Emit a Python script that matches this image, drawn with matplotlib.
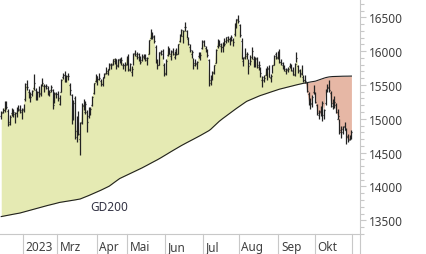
import numpy as np
import pandas as pd
import matplotlib
matplotlib.use('Agg')
import matplotlib.pyplot as plt
import matplotlib.transforms as mtransforms
from matplotlib.collections import LineCollection
from matplotlib.ticker import MultipleLocator

plt.rcParams['font.family'] = ['Noto Sans', 'DejaVu Sans']

# Xetra trading days 13.01.2023 - 31.10.2023
START, END = '2023-01-13', '2023-10-31'
HOLIDAYS = ['2023-04-07', '2023-04-10', '2023-05-01']
MONTH_LABELS = ['2023', 'Mrz', 'Apr', 'Mai', 'Jun', 'Jul', 'Aug', 'Sep', 'Okt']

# daily OHLC (DAX)
OPEN = [15040, 15100, 15130, 15190, 15120, 14950, 15080, 15110, 15070, 15080, 15150, 15130, 15100,
        15140, 15290, 15470, 15400, 15320, 15370, 15450, 15420, 15330, 15400, 15370, 15500, 15480, 15490, 15460, 15380, 15430, 15420, 15270, 15370,
        15360, 15220, 15400, 15610, 15650, 15570, 15630, 15500, 15350, 15010, 15300, 14820, 15000, 14700, 14950, 15200, 15100, 15100, 15040, 15110, 15210, 15380, 15560,
        15560, 15590, 15560, 15510, 15620, 15680, 15680, 15740, 15790, 15810, 15850, 15880, 15780, 15870, 15850, 15800, 15790, 15810,
        15920, 15740, 15690, 15800, 15970, 15930, 15910, 15900, 15870, 15930, 15940, 15870, 15960, 16190, 16260, 16210, 16060, 15850, 15800, 15970, 16000, 15800,
        15680, 15940, 16020, 15930, 16000, 15920, 16010, 15960, 16150, 16240, 16220, 16350, 16290, 16180, 16060, 15960, 15870, 15800, 15820, 15930, 15930, 16050,
        16130, 16050, 16020, 15870, 15570, 15620, 15690, 15830, 16070, 16140, 16080, 16060, 16130, 16150, 16160, 16180, 16190, 16170, 16250, 16390, 16460,
        16390, 16150, 15850, 15910, 15930, 15840, 15830, 15910, 15890, 15800, 15880, 15790, 15670, 15580, 15610, 15650, 15640, 15750, 15600, 15690, 15800, 15950, 15910,
        15980, 15840, 15800, 15760, 15700, 15740, 15780, 15780, 15710, 15660, 15850, 15780, 15700, 15670, 15620, 15580, 15530, 15360, 15250, 15230, 15400,
        15370, 15200, 15060, 15110, 15090, 15050, 15230, 15420, 15470, 15380, 15230, 15260, 15210, 15000, 14980, 14830, 14850, 14890, 14830, 14750, 14700, 14730]
HIGH = [15110, 15160, 15270, 15270, 15140, 15060, 15160, 15140, 15100, 15180, 15200, 15200, 15160,
        15220, 15530, 15580, 15440, 15400, 15430, 15660, 15460, 15410, 15480, 15510, 15600, 15520, 15510, 15480, 15430, 15500, 15440, 15400, 15390,
        15410, 15350, 15590, 15670, 15700, 15650, 15680, 15530, 15370, 15280, 15330, 15040, 15110, 14950, 15230, 15290, 15270, 15130, 15180, 15170, 15340, 15530, 15660,
        15630, 15670, 15590, 15610, 15680, 15760, 15740, 15820, 15820, 15890, 15900, 15890, 15890, 15900, 15920, 15830, 15840, 15930,
        15960, 15830, 15780, 15970, 16010, 15980, 15970, 15930, 15950, 15960, 15960, 15910, 16170, 16330, 16280, 16240, 16090, 15880, 15990, 16010, 16030, 15830,
        15880, 16080, 16040, 16010, 16050, 16000, 16050, 16110, 16250, 16330, 16310, 16430, 16310, 16210, 16100, 16020, 15900, 15880, 15860, 15990, 15990, 16160,
        16160, 16070, 16030, 15890, 15640, 15700, 15800, 16030, 16180, 16170, 16120, 16130, 16200, 16210, 16230, 16210, 16240, 16190, 16420, 16480, 16530,
        16400, 16190, 15920, 16040, 15990, 15880, 15940, 16060, 15930, 15920, 15910, 15860, 15760, 15630, 15650, 15750, 15780, 15800, 15660, 15800, 15940, 15990, 16000,
        16030, 15880, 15840, 15790, 15750, 15770, 15830, 15810, 15760, 15820, 15990, 15790, 15730, 15800, 15640, 15640, 15550, 15390, 15300, 15350, 15500,
        15400, 15220, 15130, 15190, 15270, 15140, 15440, 15520, 15580, 15410, 15290, 15330, 15230, 15140, 15000, 14890, 14900, 14950, 14860, 14780, 14760, 14830]
LOW = [14990, 15080, 15100, 15150, 14900, 14910, 15040, 15020, 14940, 15030, 15110, 15090, 15000,
       15100, 15270, 15420, 15300, 15250, 15330, 15420, 15280, 15280, 15320, 15330, 15480, 15400, 15440, 15350, 15330, 15390, 15150, 15240, 15300,
       15270, 15200, 15390, 15590, 15550, 15540, 15570, 15350, 14930, 14980, 14700, 14650, 14760, 14460, 14930, 15130, 15070, 14800, 15010, 15060, 15190, 15370, 15550,
       15500, 15570, 15480, 15490, 15600, 15660, 15650, 15720, 15740, 15800, 15810, 15740, 15760, 15830, 15800, 15730, 15710, 15790,
       15700, 15710, 15630, 15790, 15930, 15890, 15860, 15810, 15850, 15880, 15860, 15790, 15950, 16180, 16180, 16120, 15830, 15730, 15800, 15940, 15890, 15630,
       15650, 15930, 15950, 15870, 15940, 15880, 15940, 15950, 16130, 16230, 16120, 16300, 16190, 16090, 15980, 15900, 15730, 15780, 15740, 15900, 15870, 16030,
       16070, 15990, 15920, 15480, 15500, 15580, 15660, 15820, 16050, 16070, 15990, 15990, 16080, 16120, 16130, 16090, 16150, 16080, 16230, 16340, 16420,
       16210, 15880, 15780, 15880, 15880, 15660, 15800, 15880, 15770, 15760, 15750, 15720, 15620, 15470, 15550, 15640, 15570, 15610, 15540, 15680, 15790, 15880, 15880,
       15820, 15790, 15740, 15700, 15660, 15690, 15750, 15700, 15650, 15630, 15840, 15680, 15620, 15650, 15550, 15530, 15390, 15210, 15150, 15180, 15370,
       15230, 15060, 14990, 15040, 14960, 15000, 15200, 15400, 15400, 15170, 15150, 15160, 15080, 14990, 14780, 14710, 14780, 14840, 14630, 14650, 14680, 14700]
CLOSE = [15087, 15134, 15187, 15181, 14920, 15033, 15103, 15093, 15082, 15132, 15150, 15126, 15128,
         15181, 15509, 15476, 15345, 15321, 15412, 15524, 15308, 15397, 15381, 15506, 15534, 15482, 15478, 15398, 15400, 15476, 15210, 15381, 15365,
         15305, 15328, 15578, 15654, 15560, 15632, 15633, 15428, 14959, 15233, 14735, 14968, 14768, 14933, 15195, 15217, 15211, 14957, 15128, 15142, 15329, 15522, 15629,
         15581, 15603, 15520, 15598, 15655, 15703, 15729, 15808, 15790, 15883, 15896, 15795, 15882, 15863, 15872, 15796, 15800, 15922,
         15726, 15815, 15734, 15961, 15952, 15955, 15896, 15834, 15914, 15917, 15897, 15897, 16163, 16275, 16223, 16152, 15842, 15793, 15984, 15952, 15909, 15664,
         15853, 16051, 15964, 15993, 15961, 15989, 15950, 16098, 16230, 16310, 16290, 16358, 16201, 16111, 16023, 15988, 15830, 15813, 15846, 15949, 15946, 16148,
         16081, 16039, 15938, 15528, 15603, 15673, 15790, 16023, 16141, 16105, 16068, 16125, 16108, 16204, 16177, 16191, 16211, 16131, 16406, 16469, 16447,
         16240, 15921, 15893, 15952, 15950, 15774, 15853, 15997, 15832, 15904, 15767, 15789, 15677, 15574, 15603, 15729, 15729, 15621, 15632, 15792, 15930, 15892, 15947,
         15840, 15825, 15771, 15741, 15718, 15740, 15800, 15715, 15654, 15805, 15894, 15727, 15664, 15782, 15571, 15557, 15405, 15256, 15217, 15323, 15387,
         15247, 15085, 15099, 15070, 15229, 15128, 15424, 15460, 15425, 15186, 15237, 15251, 15094, 15045, 14798, 14800, 14879, 14892, 14731, 14687, 14716, 14810]
# 200-Tage-Durchschnitt (GD200)
GD200 = [13555, 13560, 13565, 13570, 13574, 13579, 13584, 13589, 13594, 13598, 13603, 13608, 13615,
         13622, 13629, 13636, 13643, 13650, 13657, 13664, 13671, 13678, 13686, 13693, 13699, 13706, 13712, 13719, 13725, 13731, 13738, 13744, 13751,
         13757, 13764, 13768, 13772, 13776, 13780, 13784, 13788, 13793, 13797, 13801, 13806, 13810, 13815, 13825, 13835, 13845, 13855, 13866, 13877, 13888, 13899, 13910,
         13921, 13932, 13944, 13956, 13968, 13981, 13993, 14006, 14024, 14043, 14062, 14081, 14099, 14117, 14129, 14141, 14153, 14165,
         14177, 14189, 14201, 14213, 14224, 14236, 14248, 14260, 14274, 14287, 14301, 14314, 14328, 14341, 14355, 14368, 14382, 14395, 14409, 14424, 14439, 14455,
         14470, 14485, 14501, 14516, 14531, 14547, 14562, 14577, 14592, 14605, 14619, 14632, 14646, 14659, 14672, 14686, 14699, 14713, 14726, 14739, 14753, 14767,
         14782, 14796, 14811, 14825, 14844, 14868, 14891, 14915, 14939, 14963, 14984, 15003, 15022, 15041, 15061, 15080, 15099, 15118, 15136, 15153, 15171,
         15188, 15206, 15223, 15241, 15258, 15269, 15280, 15291, 15302, 15312, 15323, 15334, 15344, 15352, 15361, 15369, 15378, 15386, 15395, 15403, 15412, 15420, 15429,
         15437, 15443, 15450, 15456, 15463, 15469, 15475, 15482, 15488, 15495, 15501, 15507, 15514, 15519, 15524, 15529, 15534, 15538, 15543, 15547, 15552,
         15556, 15565, 15574, 15583, 15592, 15600, 15608, 15614, 15619, 15622, 15624, 15625, 15626, 15627, 15628, 15628, 15629, 15629, 15630, 15630, 15631, 15631]

dates = pd.bdate_range(START, END)
dates = dates[~dates.isin(pd.to_datetime(HOLIDAYS))]
o, h, l, c, ma = (np.array(a, float) for a in (OPEN, HIGH, LOW, CLOSE, GD200))
assert len(dates) == len(o) == len(h) == len(l) == len(c) == len(ma)
n = len(c)
x = np.arange(n)

GRID = '#c8c8c8'
TXT = '#404040'

fig = plt.figure(figsize=(4.26, 2.55), dpi=100)
ax = fig.add_axes([0, 0.0773, 360 / 426, 0.9227])

# Fläche zwischen Kurs und GD200
ax.fill_between(x, c, ma, where=c >= ma, interpolate=True, color='#e5eab3', lw=0, zorder=1)
ax.fill_between(x, c, ma, where=c < ma, interpolate=True, color='#e6b7a5', lw=0, zorder=1)
ax.plot(x, ma, color='#202020', lw=0.8, zorder=2)

# OHLC-Balken
segs = []
for i in range(n):
    segs.append([(x[i], l[i]), (x[i], h[i])])
    segs.append([(x[i] - 0.5, o[i]), (x[i], o[i])])
    segs.append([(x[i], c[i]), (x[i] + 0.5, c[i])])
ax.add_collection(LineCollection(segs, colors='#222222', linewidths=0.9, zorder=3))

ax.text(52.1, 13704, 'GD200', fontsize=8.5, color='#333344', va='center', ha='left')

ax.set_xlim(-0.72, 209.0)
ax.set_ylim(13293, 16770)

for s in ('top', 'left'):
    ax.spines[s].set_visible(False)
for s in ('right', 'bottom'):
    ax.spines[s].set_color(GRID)
    ax.spines[s].set_linewidth(0.8)

ax.set_xticks([])
ax.yaxis.tick_right()
ax.yaxis.set_major_locator(MultipleLocator(500))
ax.yaxis.set_minor_locator(MultipleLocator(100))
ax.tick_params(axis='y', which='major', direction='out', length=4.3, width=0.8, color=GRID,
               labelsize=8.5, labelcolor=TXT, pad=2)
ax.tick_params(axis='y', which='minor', direction='out', length=2.9, width=0.8, color=GRID)

# Monatstrenner unter der Achse
trans = mtransforms.blended_transform_factory(ax.transData, ax.transAxes)
month = dates.month.values
bounds = list(np.where(month[1:] != month[:-1])[0] + 0.5) + [n - 0.5]
for b in bounds:
    ax.plot([b, b], [0, -0.2], transform=trans, clip_on=False, color=GRID, lw=0.8)
ax.plot([1, 1], [0, -0.2], transform=ax.transAxes, clip_on=False, color=GRID, lw=0.8)
lab_trans = mtransforms.offset_copy(trans, fig=fig, x=2.5, y=0, units='dots')
for b, lab in zip(bounds, MONTH_LABELS):
    ax.text(b, -0.05, lab, transform=lab_trans, fontsize=8.5, color=TXT, ha='left', va='center')

fig.savefig('out.png', dpi=100)
